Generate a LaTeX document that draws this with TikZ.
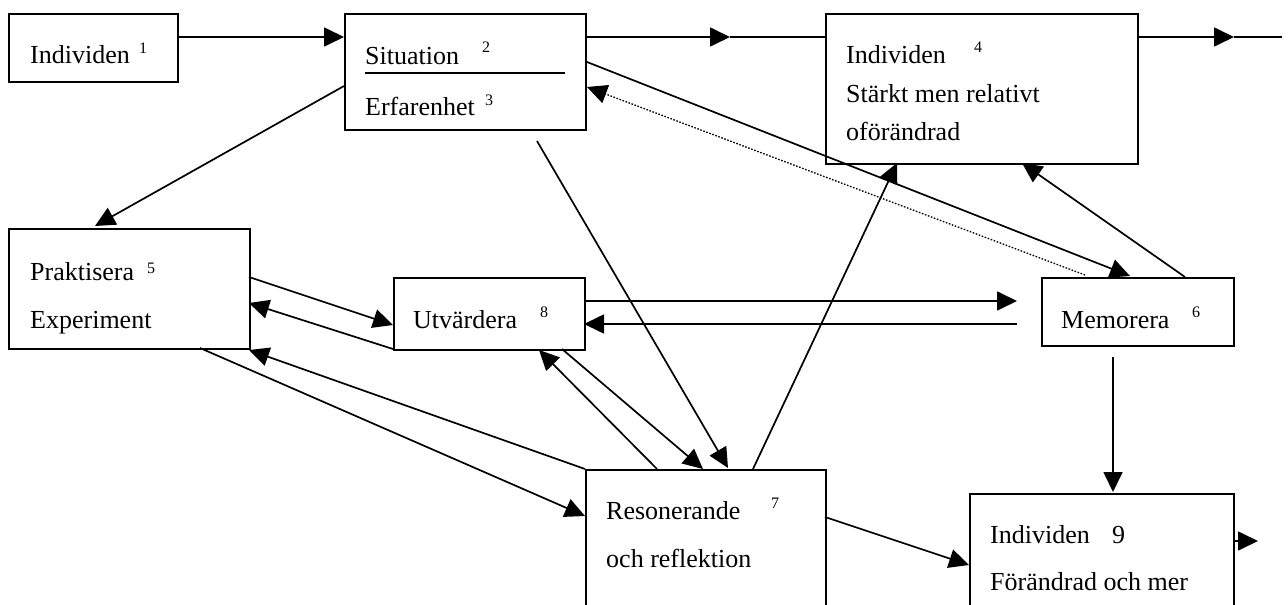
\documentclass[tikz,border=0pt]{standalone}
\usepackage{fontspec}
\setmainfont{Liberation Serif}
\usetikzlibrary{arrows.meta,calc}
\begin{document}
\begin{tikzpicture}[x=1pt,y=-1pt,
  box/.style={draw, line width=2pt, inner sep=0pt, anchor=north west},
  txt/.style={anchor=base west, inner sep=0pt, font=\fontsize{26}{30}\selectfont},
  sup/.style={anchor=base west, inner sep=0pt, font=\fontsize{16}{18}\selectfont},
  con/.style={line width=1.7pt},
  arr/.style={con, -{Triangle[length=20pt,width=19pt]}},
  dot/.style={line width=1.3pt, dash pattern=on 1.6pt off 1.6pt, -{Triangle[length=20pt,width=19pt]}}]
\useasboundingbox (0,0) rectangle (1288,605);
\clip (0,0) rectangle (1288,605);
% boxes
\node[box, minimum width=169pt, minimum height=68pt]  (ind1) at (8,13) {};
\node[box, minimum width=241pt, minimum height=116pt] (sit)  at (344,13) {};
\node[box, minimum width=312pt, minimum height=150pt] (ind4) at (825,13) {};
\node[box, minimum width=241pt, minimum height=120pt] (prak) at (8,228) {};
\node[box, minimum width=191pt, minimum height=72pt]  (utv)  at (393,277) {};
\node[box, minimum width=192pt, minimum height=68pt]  (mem)  at (1041,277) {};
\node[box, minimum width=240pt, minimum height=160pt] (res)  at (585,469) {};
\node[box, minimum width=264pt, minimum height=140pt] (ind9) at (969,493) {};
% texts
\node[txt] (t1)  at (30,63)   {Individen};
\node[sup] (s1)  at (139,53)  {1};
\node[txt] (t2)  at (365,64)  {Situation};
\node[sup] (s2)  at (482,52)  {2};
\draw[line width=1.7pt] (365,73) coordinate (ul1) -- (565,73) coordinate (ul2);
\node[txt] (t3)  at (365,115) {Erfarenhet};
\node[sup] (s3)  at (485,105) {3};
\node[txt] (t4)  at (846,63)  {Individen};
\node[sup] (s4)  at (974,52)  {4};
\node[txt] (t4b) at (846,102) {Stärkt men relativt};
\node[txt] (t4c) at (846,140) {oförändrad};
\node[txt] (t5)  at (30,280)  {Praktisera};
\node[sup] (s5)  at (147,273) {5};
\node[txt] (t5b) at (30,328)  {Experiment};
\node[txt] (t8)  at (413,328) {Utvärdera};
\node[sup] (s8)  at (540,317) {8};
\node[txt] (t6)  at (1061,328) {Memorera};
\node[sup] (s6)  at (1192,317) {6};
\node[txt] (t7)  at (606,519) {Resonerande};
\node[sup] (s7)  at (771,508) {7};
\node[txt] (t7b) at (606,567) {och reflektion};
\node[txt] (t9)  at (990,543) {Individen};
\node[txt] (n9)  at (1112,543) {9};
\node[txt] (t9b) at (990,590) {Förändrad och mer};
% coordinates
\coordinate (m1) at (730,37);
\coordinate (m2) at (1234,37);
\coordinate (endr) at (1282,37);
\coordinate (sitA) at (344,86);
\coordinate (prakT) at (95,226);
\coordinate (sitB) at (537,141);
\coordinate (resT1) at (728,468);
\coordinate (sitC) at (587,62);
\coordinate (memT1) at (1130,276);
\coordinate (memD) at (1085,275);
\coordinate (sitD) at (587,87);
\coordinate (memE) at (1185,277);
\coordinate (ind4T1) at (1022,163);
\coordinate (resA) at (753,469);
\coordinate (ind4T2) at (897,163);
\coordinate (prakA) at (249,277);
\coordinate (utvT1) at (393,325);
\coordinate (utvA) at (393,349);
\coordinate (prakT2) at (249,303);
\coordinate (utvB) at (584,301);
\coordinate (memT2) at (1017,301);
\coordinate (memF) at (1017,324);
\coordinate (utvT2) at (584,324);
\coordinate (prakB) at (200,348);
\coordinate (resT2) at (585,516);
\coordinate (resB) at (585,469);
\coordinate (prakT3) at (249,350);
\coordinate (resC) at (657,469);
\coordinate (utvT3) at (539,350);
\coordinate (utvC) at (562,349);
\coordinate (resT3) at (703,469);
\coordinate (memG) at (1113,357);
\coordinate (ind9T) at (1113,492);
\coordinate (resD) at (825,517);
\coordinate (ind9T2) at (969,565);
\coordinate (ind9R) at (1233,541);
\coordinate (ind9RT) at (1258,541);
% connectors
\draw[arr] ($(ind1.north east)+(0,24)$) -- ($(sit.north west)+(0,24)$);
\draw[arr] ($(sit.north east)+(0,24)$) -- (m1);
\draw[con] (m1) -- ($(ind4.north west)+(0,24)$);
\draw[arr] ($(ind4.north east)+(0,24)$) -- (m2);
\draw[con] (m2) -- (endr);
\draw[arr] (sitA) -- (prakT);
\draw[arr] (sitB) -- (resT1);
\draw[arr] (sitC) -- (memT1);
\draw[dot] (memD) -- (sitD);
\draw[arr] (memE) -- (ind4T1);
\draw[arr] (resA) -- (ind4T2);
\draw[arr] (prakA) -- (utvT1);
\draw[arr] (utvA) -- (prakT2);
\draw[arr] (utvB) -- (memT2);
\draw[arr] (memF) -- (utvT2);
\draw[arr] (prakB) -- (resT2);
\draw[arr] (resB) -- (prakT3);
\draw[arr] (resC) -- (utvT3);
\draw[arr] (utvC) -- (resT3);
\draw[arr] (memG) -- (ind9T);
\draw[arr] (resD) -- (ind9T2);
\draw[arr] (ind9R) -- (ind9RT);
\end{tikzpicture}
\end{document}
